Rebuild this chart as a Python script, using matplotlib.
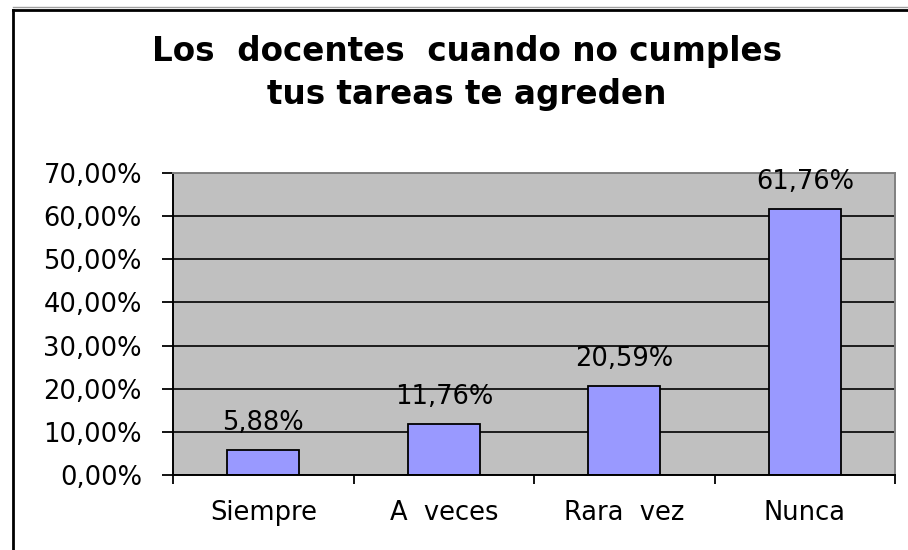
import matplotlib
matplotlib.use('Agg')
import matplotlib.pyplot as plt
from matplotlib.lines import Line2D
from matplotlib.ticker import FuncFormatter

# Datos del gráfico
categorias = ['Siempre', 'A  veces', 'Rara  vez', 'Nunca']
porcentajes = [5.88, 11.76, 20.59, 61.76]
titulo = 'Los  docentes  cuando no cumples\ntus tareas te agreden'

W, H = 908, 550
fig = plt.figure(figsize=(W / 100, H / 100), dpi=100)
fig.patch.set_facecolor('white')

# Marco del área del gráfico (borde izquierdo y superior)
fig.add_artist(Line2D([13 / W, 1], [1 - 7 / H, 1 - 7 / H], color='#a0a0a0', lw=1.0,
                      transform=fig.transFigure))
fig.add_artist(Line2D([13 / W, 1], [1 - 9.5 / H, 1 - 9.5 / H], color='black', lw=2.0,
                      transform=fig.transFigure))
fig.add_artist(Line2D([13 / W, 13 / W], [0, 1 - 9.5 / H], color='black', lw=2.0,
                      transform=fig.transFigure))

ax = fig.add_axes([173 / W, 1 - 475 / H, (895 - 173) / W, (475 - 173) / H])
ax.set_facecolor('#c0c0c0')

x = list(range(len(categorias)))
barras = ax.bar(x, porcentajes, width=0.4, color='#9999ff', edgecolor='black',
                linewidth=1.3, zorder=2)

for xi, v in zip(x, porcentajes):
    ax.annotate(f'{v:.2f}%'.replace('.', ','), (xi, v), xytext=(0, 10),
                textcoords='offset points', ha='center', va='bottom',
                fontsize=18.5, family='DejaVu Sans', color='black', zorder=3)

ax.set_xlim(-0.5, len(categorias) - 0.5)
ax.set_ylim(0, 70)
ax.set_yticks(range(0, 71, 10))
ax.yaxis.set_major_formatter(FuncFormatter(lambda v, p: f'{v:.2f}%'.replace('.', ',')))
ax.grid(axis='y', color='black', linewidth=1.2)
ax.set_axisbelow(True)

# Marcas del eje x en los límites de las categorías, etiquetas en los centros
ax.set_xticks([i - 0.5 for i in range(len(categorias) + 1)])
ax.set_xticklabels([])
ax.set_xticks(x, minor=True)
ax.set_xticklabels(categorias, minor=True)
ax.tick_params(axis='x', which='major', direction='out', length=6.5, width=1.3, color='black')
ax.tick_params(axis='x', which='minor', length=0, pad=18, labelsize=18.5)
ax.tick_params(axis='y', direction='out', length=8, width=1.3, pad=14.4, labelsize=18.5)
for lab in ax.get_xticklabels(minor=True) + ax.get_yticklabels():
    lab.set_family('DejaVu Sans')

ax.spines['left'].set_color('black')
ax.spines['left'].set_linewidth(1.4)
ax.spines['bottom'].set_color('black')
ax.spines['bottom'].set_linewidth(1.4)
ax.spines['top'].set_color('#808080')
ax.spines['top'].set_linewidth(1.4)
ax.spines['right'].set_color('#808080')
ax.spines['right'].set_linewidth(1.4)

fig.text(467 / W, 1 - 35 / H, titulo, ha='center', va='top', fontsize=23.5,
         fontweight='bold', family='DejaVu Sans', linespacing=1.4, multialignment='center')

fig.savefig('out.png', dpi=100, facecolor='white')
